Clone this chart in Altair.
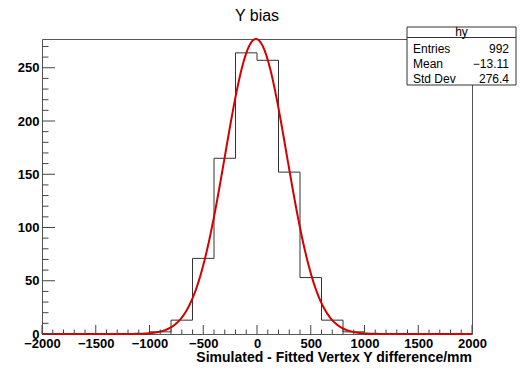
import altair as alt
import pandas as pd

# ---------------- data ----------------
BIN_LEFT_EDGES = list(range(-2000, 2000, 200))
X_END = 2000
COUNTS = [0, 0, 0, 0, 0, 2, 13, 71, 165, 264, 257, 152, 53, 13, 2, 0, 0, 0, 0, 0]

FIT_CONST = 277.0
FIT_MEAN = -10.0
FIT_SIGMA = 287.0

X_MAJOR = [-2000, -1500, -1000, -500, 0, 500, 1000, 1500, 2000]
X_MINOR = [v for v in range(-2000, 2001, 100) if v % 500 != 0]
Y_MAJOR = [0, 50, 100, 150, 200, 250]
Y_MINOR = [v for v in range(0, 277, 10) if v % 50 != 0]
X_DOMAIN = [-2000, 2000]
Y_DOMAIN = [0, 277]

TITLE = "Y bias"
X_TITLE = "Simulated - Fitted Vertex Y difference/mm"
STATS_NAME = "hy"
STATS_LABELS = ["Entries", "Mean", "Std Dev"]
STATS_VALUES = ["992", "\u221213.11", "276.4"]

FONT = "Liberation Sans"
W, H = 430, 295

# ---------------- tables ----------------
hist_df = pd.DataFrame({
    "x": BIN_LEFT_EDGES + [X_END],
    "count": COUNTS + [COUNTS[-1]],
})

xscale = alt.Scale(domain=X_DOMAIN, nice=False, zero=False)
yscale = alt.Scale(domain=Y_DOMAIN, nice=False)

xaxis = alt.Axis(values=X_MAJOR, ticks=False, domain=False, grid=False, format="d",
                 labelFont=FONT, labelFontWeight="bold", labelFontSize=13,
                 labelColor="black", labelPadding=3, labelFlush=False, title=None)
yaxis = alt.Axis(values=Y_MAJOR, ticks=False, domain=False, grid=False, format="d",
                 labelFont=FONT, labelFontWeight="bold", labelFontSize=13,
                 labelColor="black", labelPadding=3, title=None)

hist = alt.Chart(hist_df).mark_line(interpolate="step-after", color="#333333",
                                    strokeWidth=1).encode(
    x=alt.X("x:Q", scale=xscale, axis=xaxis),
    y=alt.Y("count:Q", scale=yscale, axis=yaxis),
)

fit = alt.Chart(alt.sequence(X_DOMAIN[0], X_DOMAIN[1] + 1, 5, as_="x")).transform_calculate(
    f=f"{FIT_CONST} * exp(-0.5 * pow((datum.x - ({FIT_MEAN})) / {FIT_SIGMA}, 2))"
).mark_line(color="#d40000", strokeWidth=2).encode(
    x=alt.X("x:Q", scale=xscale, axis=xaxis),
    y=alt.Y("f:Q", scale=yscale, axis=yaxis),
)

# inward ticks (ROOT style)
xmaj = alt.Chart(pd.DataFrame({"x": X_MAJOR})).mark_rule(color="#444", strokeWidth=1).encode(
    x=alt.X("x:Q", scale=xscale, axis=xaxis), y=alt.value(H), y2=alt.value(H - 9))
xmin = alt.Chart(pd.DataFrame({"x": X_MINOR})).mark_rule(color="#444", strokeWidth=1).encode(
    x=alt.X("x:Q", scale=xscale, axis=xaxis), y=alt.value(H), y2=alt.value(H - 4.5))
ymaj = alt.Chart(pd.DataFrame({"y": Y_MAJOR})).mark_rule(color="#444", strokeWidth=1).encode(
    y=alt.Y("y:Q", scale=yscale, axis=yaxis), x=alt.value(0), x2=alt.value(13))
ymin = alt.Chart(pd.DataFrame({"y": Y_MINOR})).mark_rule(color="#444", strokeWidth=1).encode(
    y=alt.Y("y:Q", scale=yscale, axis=yaxis), x=alt.value(0), x2=alt.value(6.5))

one = pd.DataFrame({"a": [0]})

title = alt.Chart(one).mark_text(text=TITLE, font=FONT, fontSize=16, align="center",
                                 baseline="alphabetic", color="black").encode(
    x=alt.value(W / 2), y=alt.value(-18))

xtitle = alt.Chart(one).mark_text(text=X_TITLE, font=FONT, fontSize=14, fontWeight="bold",
                                  align="right", baseline="alphabetic", color="black").encode(
    x=alt.value(W), y=alt.value(H + 28))

# stats box
box = alt.Chart(one).mark_rect(fill="white", stroke="#333", strokeWidth=1).encode(
    x=alt.value(365), x2=alt.value(474), y=alt.value(-12), y2=alt.value(46))
sep = alt.Chart(one).mark_rule(color="#333", strokeWidth=1).encode(
    x=alt.value(365), x2=alt.value(474), y=alt.value(-1.5))
name = alt.Chart(one).mark_text(text=STATS_NAME, font=FONT, fontSize=12, align="center",
                                baseline="alphabetic", color="black").encode(
    x=alt.value(419.5), y=alt.value(-3))

stats_layers = []
for i, (lab, val) in enumerate(zip(STATS_LABELS, STATS_VALUES)):
    yy = 14 + 15 * i
    stats_layers.append(alt.Chart(one).mark_text(text=lab, font=FONT, fontSize=12, align="left",
                                                 baseline="alphabetic", color="black").encode(
        x=alt.value(371), y=alt.value(yy)))
    stats_layers.append(alt.Chart(one).mark_text(text=val, font=FONT, fontSize=12, align="right",
                                                 baseline="alphabetic", color="black").encode(
        x=alt.value(467), y=alt.value(yy)))

chart = alt.layer(
    hist, fit, xmaj, xmin, ymaj, ymin, title, xtitle, box, sep, name, *stats_layers
).properties(
    width=W, height=H,
    autosize=alt.AutoSizeParams(type="none"),
    padding={"left": 42, "top": 39, "right": 56, "bottom": 34},
    background="white",
).configure_view(stroke="#555", strokeWidth=1)

chart.save("out.html", embed_options={"renderer": "svg", "actions": False})
